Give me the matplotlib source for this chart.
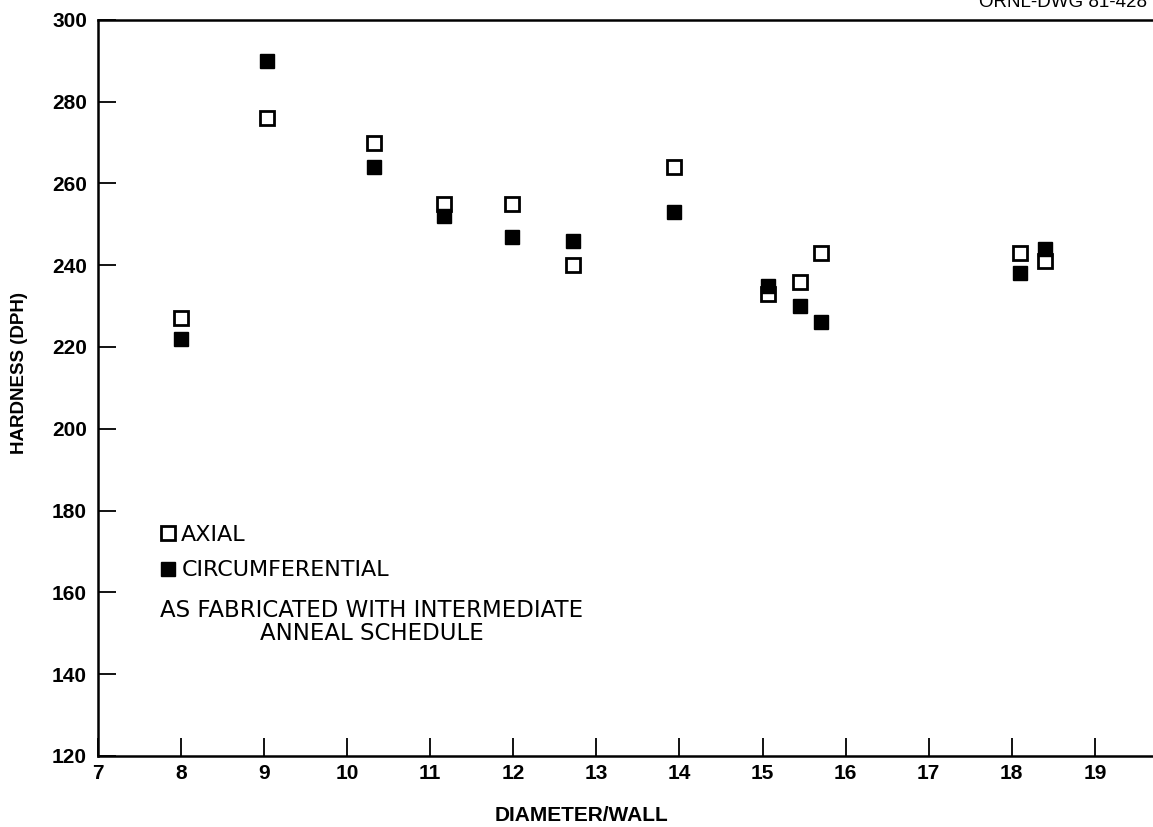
import matplotlib.pyplot as plt

# hardness vs diameter/wall ratio
diam_axial = [8.0, 9.03, 10.32, 11.17, 11.98, 12.72, 13.93, 15.06, 15.45, 15.7, 18.1, 18.4]
hard_axial = [227, 276, 270, 255, 255, 240, 264, 233, 236, 243, 243, 241]

diam_circ = [8.0, 9.03, 10.32, 11.17, 11.98, 12.72, 13.93, 15.06, 15.45, 15.7, 18.1, 18.4]
hard_circ = [222, 290, 264, 252, 247, 246, 253, 235, 230, 226, 238, 244]

xticks = list(range(7, 20))
yticks = list(range(120, 301, 20))

plt.rcParams['font.family'] = ['Liberation Sans', 'DejaVu Sans']

fig = plt.figure(figsize=(11.53, 8.27), dpi=100)
ax = fig.add_axes([0.085, 0.086, 0.915, 0.89])

ax.plot(diam_axial, hard_axial, 's', ms=9.5, mfc='white', mec='black', mew=2.0,
        ls='none', label='AXIAL')
ax.plot(diam_circ, hard_circ, 's', ms=9.5, mfc='black', mec='black', mew=1.0,
        ls='none', label='CIRCUMFERENTIAL')

ax.set_xlim(7, 19.7)
ax.set_ylim(120, 300)
ax.set_xticks(xticks)
ax.set_yticks(yticks)
ax.tick_params(direction='in', length=13, width=1.3, labelsize=15, pad=8)
for lab in ax.get_xticklabels() + ax.get_yticklabels():
    lab.set_fontweight('bold')
ax.tick_params(axis='x', pad=6)

ax.spines['right'].set_visible(False)
for s in ['left', 'bottom', 'top']:
    ax.spines[s].set_linewidth(1.8)

ax.set_xlabel('DIAMETER/WALL', fontsize=15, fontweight='bold')
ax.xaxis.set_label_coords(0.458, -0.068)
ax.set_ylabel('HARDNESS (DPH)', fontsize=13.5, fontweight='bold')
ax.yaxis.set_label_coords(-0.066, 0.52)

leg = ax.legend(loc='upper left', bbox_to_anchor=(0.06, 0.314), frameon=False,
                prop={'family': 'DejaVu Sans', 'size': 16},
                handlelength=0.6, handletextpad=0.3, labelspacing=0.7,
                borderaxespad=0, borderpad=0)

ax.text(0.059, 0.213, 'AS FABRICATED WITH INTERMEDIATE\nANNEAL SCHEDULE',
        transform=ax.transAxes, family='DejaVu Sans', fontsize=16.5,
        va='top', ha='left', multialignment='center', linespacing=1.0)

fig.text(0.995, 1 - 7 / 827, 'ORNL-DWG 81-428', fontsize=13.5, va='baseline', ha='right')

fig.savefig('out.png', dpi=100)
